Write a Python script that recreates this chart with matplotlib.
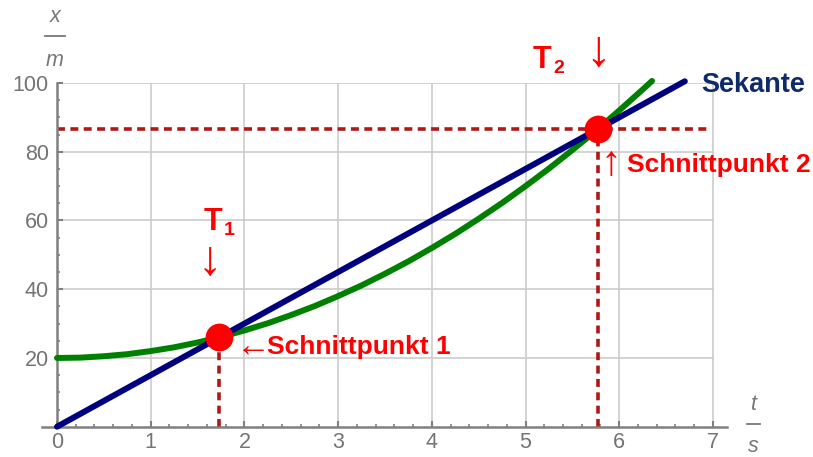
import matplotlib
matplotlib.use("Agg")
import matplotlib.pyplot as plt
from matplotlib.lines import Line2D
from matplotlib.ticker import MultipleLocator

plt.rcParams['font.family'] = ['Liberation Sans', 'DejaVu Sans']

# position curve x(t) in m, sampled over time t in s
t_curve = [0, 0.25, 0.5, 0.75, 1.0, 1.25, 1.5, 1.75, 2.0, 2.25, 2.5, 2.75, 3.0,
           3.25, 3.5, 3.75, 4.0, 4.25, 4.5, 4.75, 5.0, 5.25, 5.5, 5.75, 6.0,
           6.25, 6.35]
x_curve = [20, 20.1, 20.5, 21.1, 22, 23.1, 24.5, 26.1, 28, 30.1, 32.5, 35.1, 38,
           41.1, 44.5, 48.1, 52, 56.1, 60.5, 65.1, 70, 75.1, 80.5, 86.1, 92,
           98.1, 100.6]

# secant through both intersection points
t_secant = [0, 6.7]
x_secant = [0, 100.5]

# intersection points T1 and T2
t_cross = [1.73, 5.77]
x_cross = [26.0, 86.6]

x_ticks = [0, 1, 2, 3, 4, 5, 6, 7]
y_ticks = [20, 40, 60, 80, 100]

W, H = 813, 457
fig = plt.figure(figsize=(W / 100, H / 100), dpi=100)
ax = fig.add_axes([42 / W, 1 - 426.7 / H, (727 - 42) / W, (426.7 - 83) / H])
ax.set_xlim(-0.16, 7.15)
ax.set_ylim(0, 100)

grey = '#808080'
for s in ['top', 'right']:
    ax.spines[s].set_visible(False)
ax.spines['left'].set_position(('data', 0))
ax.spines['bottom'].set_position(('data', 0))
for s in ['left', 'bottom']:
    ax.spines[s].set_color(grey)
    ax.spines[s].set_linewidth(1.8)

ax.set_xticks(x_ticks)
ax.set_yticks(y_ticks)
ax.xaxis.set_minor_locator(MultipleLocator(0.2))
ax.yaxis.set_minor_locator(MultipleLocator(5))
ax.tick_params(which='major', direction='in', length=4, width=1.5, color=grey,
               labelcolor='#747474', labelsize=15.5)
ax.tick_params(which='minor', direction='in', length=2.5, width=1.2, color=grey)
ax.tick_params(axis='x', pad=4)
ax.tick_params(axis='y', pad=6)

# grid at the major ticks
for xv in x_ticks[1:]:
    ax.plot([xv, xv], [0, 100], color='#cccccc', lw=1.2, zorder=0.5)
for yv in y_ticks:
    ax.plot([0, 7], [yv, yv], color='#cccccc', lw=1.2, zorder=0.5)

dash_col = '#b01818'
ax.plot([0, 6.95], [x_cross[1], x_cross[1]], color=dash_col, lw=2.6,
        dashes=(2.2, 1.5), zorder=2)
for tc, xc in zip(t_cross, x_cross):
    ax.plot([tc, tc], [0, xc], color=dash_col, lw=2.6, dashes=(2.2, 1.5), zorder=2)

ax.plot(t_curve, x_curve, color='#008000', lw=4.3, solid_capstyle='round',
        clip_on=False, zorder=3)
ax.plot(t_secant, x_secant, color='#00007f', lw=4.3, solid_capstyle='round',
        clip_on=False, zorder=4)
ax.plot(t_cross, x_cross, 'o', color='#ff0000', ms=20, mec='none',
        clip_on=False, zorder=5)

red = '#ff0000'
# labels T1, T2 with subscripts and arrows
def t_label(xp, yp, sub):
    fig.text(xp / W, 1 - yp / H, 'T', color=red, fontsize=22, fontweight='bold',
             ha='left', va='baseline')
    fig.text((xp + 20) / W, 1 - (yp + 5) / H, sub, color=red, fontsize=14,
             fontweight='bold', ha='left', va='baseline')

t_label(204, 230, '1')
t_label(533, 68, '2')
fig.text(210 / W, 1 - 263 / H, '↓', color=red, fontsize=35, ha='center', va='center')
fig.text(598 / W, 1 - 52 / H, '↓', color=red, fontsize=37, ha='center', va='center')

fig.text(236 / W, 1 - 347 / H, '←', color=red, fontsize=25, ha='left', va='center')
fig.text(267 / W, 1 - 347 / H, 'Schnittpunkt 1', color=red, fontsize=19,
         fontweight='bold', ha='left', va='center')
fig.text(611 / W, 1 - 164 / H, '↑', color=red, fontsize=30, ha='center', va='center')
fig.text(627 / W, 1 - 165 / H, 'Schnittpunkt 2', color=red, fontsize=19,
         fontweight='bold', ha='left', va='center')
fig.text(701 / W, 1 - 85 / H, 'Sekante', color='#0f2a6b', fontsize=19.5,
         fontweight='bold', ha='left', va='center')

# axis unit labels as fractions
lab = dict(color='#777777', fontsize=15.5, style='italic', ha='center', va='center')
fig.text(55 / W, 1 - 17 / H, 'x', **lab)
fig.text(55 / W, 1 - 60 / H, 'm', **lab)
fig.add_artist(Line2D([45 / W, 65 / W], [1 - 36 / H, 1 - 36 / H], color='#777777', lw=1.3))
fig.text(753 / W, 1 - 404 / H, 't', **lab)
fig.text(753 / W, 1 - 446 / H, 's', **lab)
fig.add_artist(Line2D([747 / W, 760 / W], [1 - 424 / H, 1 - 424 / H], color='#777777', lw=1.3))

fig.savefig('out.png', dpi=100)
